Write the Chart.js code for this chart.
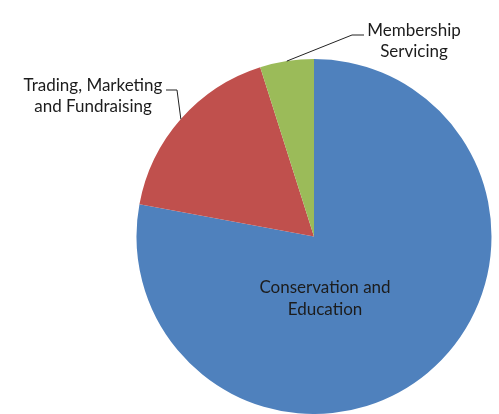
<!DOCTYPE html>
<html>
<head>
<meta charset="utf-8">
<script src="https://cdn.jsdelivr.net/npm/chart.js@4/dist/chart.umd.min.js"></script>
<style>
  html, body { margin: 0; padding: 0; background: #fff; }
  canvas { display: block; }
</style>
</head>
<body>
<canvas id="myChart" width="499" height="414"></canvas>
<script>
const categories = ['Conservation and Education', 'Trading, Marketing and Fundraising', 'Membership Servicing'];
const shares = [77.9, 17.2, 4.9];
const sliceColors = ['#4F81BD', '#C0504D', '#9BBB59'];

// label placement per slice: text lines, text centre, where the leader elbow goes
const labelSetup = [
    { lines: ['Conservation and', 'Education'], inside: true, dx: 11, dy: 51 },
    { lines: ['Trading, Marketing', 'and Fundraising'], tx: 93, ty: 86, elbow: [177, 90], tail: [166, 90] },
    { lines: ['Membership', 'Servicing'], tx: 414, ty: 31, elbow: [352, 35], tail: [364, 35] }
];

const labelPlugin = {
    id: 'pieLabels',
    afterDraw(chart) {
        const ctx = chart.ctx;
        const arcs = chart.getDatasetMeta(0).data;
        ctx.save();
        ctx.font = "17px 'Lato', 'Open Sans', sans-serif";
        ctx.fillStyle = '#1c1c1c';
        ctx.textAlign = 'center';
        ctx.textBaseline = 'middle';
        arcs.forEach((arc, i) => {
            const cfg = labelSetup[i];
            if (cfg.inside) {
                const x = arc.x + cfg.dx;
                const y = arc.y + cfg.dy;
                ctx.fillText(cfg.lines[0], x, y);
                ctx.fillText(cfg.lines[1], x, y + 22);
                return;
            }
            const mid = (arc.startAngle + arc.endAngle) / 2;
            const ax = arc.x + Math.cos(mid) * arc.outerRadius;
            const ay = arc.y + Math.sin(mid) * arc.outerRadius;
            ctx.strokeStyle = '#222';
            ctx.lineWidth = 1;
            ctx.beginPath();
            ctx.moveTo(ax, ay);
            ctx.lineTo(cfg.elbow[0], cfg.elbow[1]);
            ctx.lineTo(cfg.tail[0], cfg.tail[1]);
            ctx.stroke();
            ctx.fillText(cfg.lines[0], cfg.tx, cfg.ty);
            ctx.fillText(cfg.lines[1], cfg.tx, cfg.ty + 21);
        });
        ctx.restore();
    }
};

const ctx = document.getElementById('myChart').getContext('2d');
const myChart = new Chart(ctx, {
    type: 'pie',
    data: {
        labels: categories,
        datasets: [{
            data: shares,
            backgroundColor: sliceColors,
            hoverBackgroundColor: sliceColors,
            borderWidth: 0,
            hoverOffset: 0
        }]
    },
    options: {
        responsive: false,
        animation: false,
        layout: {
            padding: { left: 136, right: 7, top: 59, bottom: 0 }
        },
        plugins: {
            legend: { display: false },
            tooltip: { enabled: false }
        }
    },
    plugins: [labelPlugin]
});
</script>
</body>
</html>
